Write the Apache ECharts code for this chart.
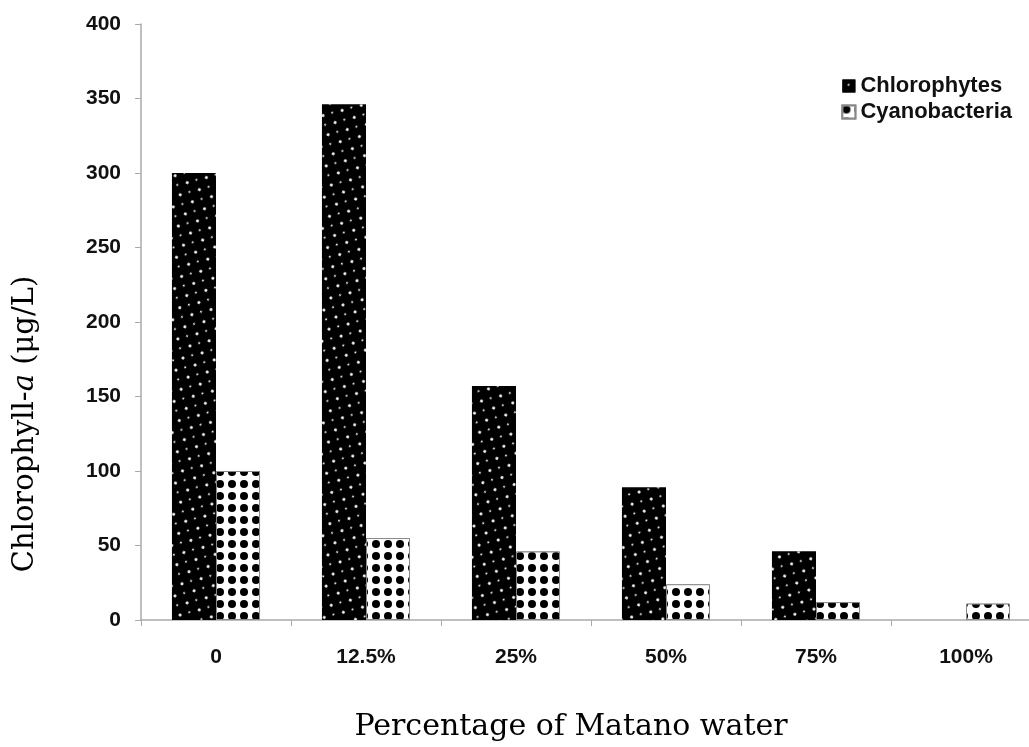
<!DOCTYPE html>
<html>
<head>
<meta charset="utf-8">
<script src="https://cdn.jsdelivr.net/npm/echarts@6/dist/echarts.min.js"></script>
<style>html,body{margin:0;padding:0;background:#fff}#c{width:1029px;height:747px}</style>
</head>
<body>
<div id="c"></div>
<script>
const categories = ['0', '12.5%', '25%', '50%', '75%', '100%'];
const chlorophytes = [300, 346, 157, 89, 46, 0];
const cyanobacteria = [100, 55, 46, 24, 12, 11];
const yTicks = { min: 0, max: 400, interval: 50 };

const chart = echarts.init(document.getElementById('c'), null, { renderer: 'canvas' });
const tickFont = { fontFamily: 'Liberation Sans, Arial, sans-serif', fontWeight: 'bold', fontSize: 21, color: '#111' };
chart.setOption({
  animation: false,
  aria: { enabled: true, decal: { show: true } },
  grid: { left: 141, top: 24, width: 900, height: 596, outerBoundsMode: 'none', containLabel: false },
  legend: {
    right: 12, top: 70, orient: 'vertical', itemGap: 4,
    itemWidth: 13, itemHeight: 13, icon: 'rect',
    textStyle: Object.assign({}, tickFont, { fontSize: 22 }),
    data: ['Chlorophytes', 'Cyanobacteria']
  },
  xAxis: {
    type: 'category', data: categories,
    axisLine: { lineStyle: { color: '#aaa', width: 1.5 } },
    axisTick: { show: true, length: 6, lineStyle: { color: '#aaa' } },
    axisLabel: Object.assign({ margin: 27 }, tickFont),
    name: 'Percentage of Matano water', nameLocation: 'middle', nameGap: 92,
    nameTextStyle: { fontFamily: 'DejaVu Serif, serif', fontSize: 30, color: '#000', padding: [0, 40, 0, 0] }
  },
  yAxis: {
    type: 'value', min: yTicks.min, max: yTicks.max, interval: yTicks.interval,
    splitLine: { show: false },
    axisLine: { show: true, lineStyle: { color: '#aaa', width: 1.5 } },
    axisTick: { show: true, length: 6, lineStyle: { color: '#aaa' } },
    axisLabel: Object.assign({ margin: 20 }, tickFont),
    name: 'Chlorophyll-{i|a} (μg/L)', nameLocation: 'middle', nameGap: 101,
    nameTextStyle: {
      fontFamily: 'DejaVu Serif, serif', fontSize: 29, color: '#000',
      padding: [0, 204, 0, 0],
      rich: { i: { fontFamily: 'DejaVu Serif, serif', fontStyle: 'italic', fontSize: 29, color: '#000' } }
    }
  },
  series: [
    {
      name: 'Chlorophytes', type: 'bar', data: chlorophytes,
      barGap: '0%', barCategoryGap: '41.3%',
      itemStyle: {
        color: '#000', borderWidth: 0,
        decal: { symbol: 'circle', color: '#fff', backgroundColor: '#000', symbolSize: 1,
          dashArrayX: [[2.5, 10.5], [0, 6.5, 2, 4.5]], dashArrayY: [2.5, 4] }
      }
    },
    {
      name: 'Cyanobacteria', type: 'bar', data: cyanobacteria,
      itemStyle: {
        color: '#fff', borderColor: '#888', borderWidth: 1,
        decal: { symbol: 'circle', color: '#000', backgroundColor: '#fff', symbolSize: 1,
          dashArrayX: [8, 4], dashArrayY: [8, 4] }
      }
    }
  ]
});
</script>
</body>
</html>
